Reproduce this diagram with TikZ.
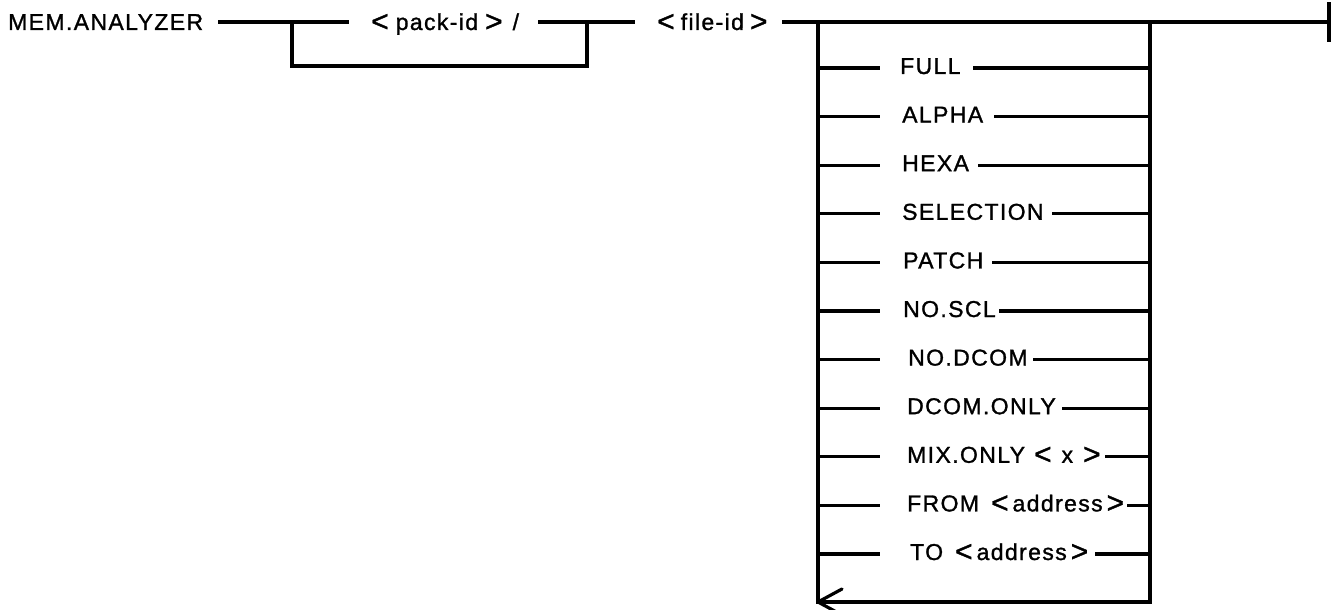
\documentclass[tikz,border=0pt]{standalone}
\usepackage{fontspec}
\setmainfont{Liberation Sans}[LetterSpace=6,FakeBold=1.2]
\newcommand{\sLT}{\raisebox{-1.5pt}{\fontsize{30}{30}\selectfont<}}
\newcommand{\sGT}{\raisebox{-1.5pt}{\fontsize{30}{30}\selectfont>}}
\begin{document}
\begin{tikzpicture}[x=1pt,y=-1pt,
  lbl/.style={inner sep=0pt, font=\fontsize{23}{27}\selectfont},
  ln/.style={line width=3.2pt, line cap=rect, line join=miter}]
\useasboundingbox (0,0) rectangle (1338,610);
\clip (0,0) rectangle (1338,610);
% top line
\node[lbl,anchor=base west] (mem)  at (8,30)   {MEM.ANALYZER};
\node[lbl,anchor=base west] (pack) at (371,30) {\sLT\hspace{7pt}pack-id\hspace{7pt}\sGT\hspace{10pt}/};
\node[lbl,anchor=base west] (file) at (657,30) {\sLT\hspace{6pt}file-id\hspace{6pt}\sGT};
\coordinate (b1)  at (292,22);
\coordinate (b2)  at (587,22);
\coordinate (b1d) at (292,66);
\coordinate (b2d) at (587,66);
\coordinate (jL)  at (818,22);
\coordinate (jR)  at (1150,22);
\coordinate (endc) at (1329,22);
\coordinate (bL)  at (818,602);
\coordinate (bR)  at (1150,602);
\draw[ln] ([xshift=16pt]mem.east |- b1) -- ([xshift=-24pt]pack.west |- b1);
\draw[ln] ([xshift=20pt]pack.east |- b2) -- ([xshift=-24pt]file.west |- b2);
\draw[ln] (b1) -- (b1d) -- (b2d) -- (b2);
\draw[ln] ([xshift=16pt]file.east |- jL) -- (endc);
\draw[ln] ([yshift=-18pt]endc) -- ([yshift=18pt]endc);
% option box
\draw[ln] (jL) -- (bL) -- (bR) -- (jR);
\draw[line width=3.2pt, line cap=round, line join=round]
  ([xshift=24pt,yshift=13pt]bL) -- (bL) -- ([xshift=24pt,yshift=-13pt]bL);
\foreach \i/\t/\x/\g in {0/{FULL}/900/14, 1/{ALPHA}/902/12, 2/{HEXA}/902/10,
   3/{SELECTION}/902/10, 4/{PATCH}/903/10, 5/{NO.SCL}/903/5, 6/{NO.DCOM}/908/7,
   7/{DCOM.ONLY}/907/8, 8/{MIX.ONLY\hspace{9pt}\sLT\hspace{10pt}x\hspace{10pt}\sGT}/907/6,
   9/{FROM\hspace{12pt}\sLT\hspace{4pt}address\hspace{4pt}\sGT}/907/4,
   10/{TO\hspace{12pt}\sLT\hspace{4pt}address\hspace{4pt}\sGT}/910/8}{
  \pgfmathsetmacro\yy{68+48.6*\i}
  \coordinate (rl\i) at (818,\yy);
  \coordinate (rr\i) at (1150,\yy);
  \coordinate (rs\i) at (878,\yy);
  \node[lbl,anchor=base west] (r\i) at (\x,\yy+6) {\t};
  \draw[ln] (rl\i) -- (rs\i);
  \draw[ln] ([xshift=\g pt]r\i.east |- rr\i) -- (rr\i);
}
\end{tikzpicture}
\end{document}
